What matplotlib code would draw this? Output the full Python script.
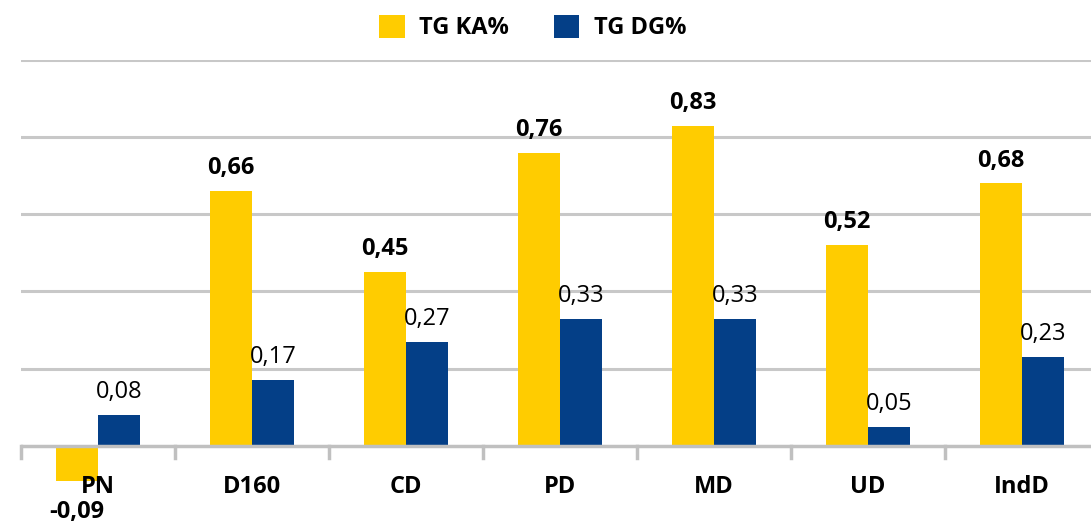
import matplotlib.pyplot as plt
import numpy as np

plt.rcParams['font.family'] = ['Open Sans', 'DejaVu Sans']

categories = ['PN', 'D160', 'CD', 'PD', 'MD', 'UD', 'IndD']
tg_ka = [-0.09, 0.66, 0.45, 0.76, 0.83, 0.52, 0.68]
tg_dg = [0.08, 0.17, 0.27, 0.33, 0.33, 0.05, 0.23]

yellow = '#FFCC00'
blue = '#043F87'


def fmt(v):
    return ('%.2f' % v).replace('.', ',')


fig = plt.figure(figsize=(10.91, 5.22), dpi=100)
ax = fig.add_axes([21 / 1091, -1 / 522, (1099 - 21) / 1091, 463 / 522])

x = np.arange(len(categories))
w = 0.274
b1 = ax.bar(x - w / 2, tg_ka, w, color=yellow, label='TG KA%', zorder=3)
b2 = ax.bar(x + w / 2, tg_dg, w, color=blue, label='TG DG%', zorder=3)

for xi, v in zip(x, tg_ka):
    if v >= 0:
        ax.text(xi - w / 2, v + 0.028, fmt(v), ha='center', va='bottom',
                fontsize=17, fontweight='bold')
    else:
        ax.text(xi - w / 2, -0.14, fmt(v), ha='center', va='top',
                fontsize=17, fontweight='bold')
for xi, v in zip(x, tg_dg):
    ax.text(xi + w / 2, v + 0.028, fmt(v), ha='center', va='bottom',
            fontsize=17)

for xi, c in zip(x, categories):
    ax.text(xi, -0.107, c, ha='center', va='center', fontsize=17,
            fontweight='bold')

ax.set_xlim(-0.5, len(categories) - 0.5)
ax.set_ylim(-0.2, 1.0)
ax.set_yticks([0.2, 0.4, 0.6, 0.8, 1.0])
ax.yaxis.grid(True, color='#c8c8c8', linewidth=2.2, zorder=0)
ax.tick_params(axis='y', length=0, labelleft=False)
ax.set_xticks(np.arange(len(categories) + 1) - 0.5)
ax.tick_params(axis='x', length=0, labelbottom=False)
for s in ax.spines.values():
    s.set_visible(False)
ax.axhline(0, color='#c0c0c0', linewidth=2.5, zorder=4)
for b in np.arange(len(categories) + 1) - 0.5:
    ax.plot([b, b], [0, -0.031], color='#c0c0c0', linewidth=2.5,
            clip_on=False, zorder=4)

fig.legend(handles=[b1, b2], loc='center', bbox_to_anchor=(0.488, 0.947),
           ncol=2, frameon=False, handlelength=1.1, handleheight=1.1,
           columnspacing=1.9, handletextpad=0.6,
           prop={'size': 17, 'weight': 'bold'})

fig.savefig('out.png', dpi=100)
